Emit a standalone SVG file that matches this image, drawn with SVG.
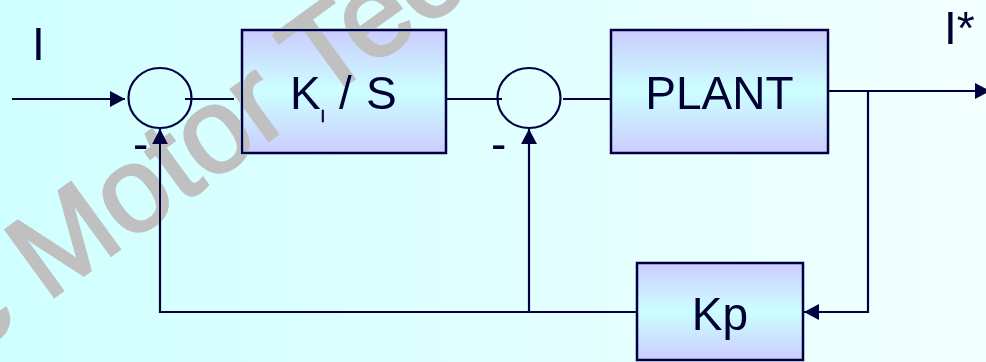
<svg xmlns="http://www.w3.org/2000/svg" width="986" height="362" viewBox="0 0 986 362">
<defs>
<linearGradient id="bg" x1="0" y1="0" x2="1" y2="0">
<stop offset="0" stop-color="#d0ffff"/>
<stop offset="1" stop-color="#f2ffff"/>
</linearGradient>
<linearGradient id="box" x1="0" y1="0" x2="0" y2="1">
<stop offset="0" stop-color="#ccccff"/>
<stop offset="0.5" stop-color="#ccffff"/>
<stop offset="1" stop-color="#ccccff"/>
</linearGradient>
<marker id="arr" markerUnits="userSpaceOnUse" markerWidth="16" markerHeight="16" refX="15" refY="8" orient="auto" viewBox="0 0 16 16">
<path d="M0,0 L15,8 L0,16 z" fill="#000040"/>
</marker>
<style>
.box{fill:url(#box);stroke:#000040;stroke-width:2.5}
.sum{fill:none;stroke:#000040;stroke-width:2.2}
.ln{fill:none;stroke:#000040;stroke-width:2.2}
.lbl{font-family:"Liberation Sans",Arial,sans-serif;font-size:46px;fill:#000033}
.sub{font-size:17px;stroke:#000033;stroke-width:0.6}
.wm{font-family:"Liberation Sans",Arial,sans-serif;font-size:120px;fill:#c0c0c0;stroke:#c0c0c0;stroke-width:3;mix-blend-mode:darken}
</style>
</defs>
<rect x="0" y="0" width="986" height="362" fill="url(#bg)"/>

<g id="connectors">
<path class="ln" d="M12,99 H125" marker-end="url(#arr)"/>
<path class="ln" d="M185,99 H234"/>
<path class="ln" d="M437,99 H502"/>
<path class="ln" d="M563,99 H611"/>
<path class="ln" d="M827,91 H990" marker-end="url(#arr)"/>
<path class="ln" d="M868,91 V312 H804" marker-end="url(#arr)"/>
<path class="ln" d="M637,312 H160 V129" marker-end="url(#arr)"/>
<path class="ln" d="M529,312 V129" marker-end="url(#arr)"/>
</g>

<g id="sum1">
<ellipse class="sum" cx="160" cy="98" rx="31.5" ry="30"/>
<text class="lbl" x="133" y="160">-</text>
</g>
<g id="integrator">
<rect class="box" x="242" y="30" width="204" height="123"/>
<text class="lbl"><tspan x="290" y="109">K</tspan><tspan class="sub" x="320.5" y="122">I</tspan><tspan x="339" y="109">/</tspan><tspan x="366" y="109">S</tspan></text>
</g>
<g id="sum2">
<ellipse class="sum" cx="529" cy="98" rx="31.5" ry="30"/>
<text class="lbl" x="491" y="160">-</text>
</g>
<g id="plant">
<rect class="box" x="611" y="30" width="217" height="123"/>
<text class="lbl" x="719.5" y="109" text-anchor="middle">PLANT</text>
</g>
<g id="kp">
<rect class="box" x="637" y="263" width="166" height="97"/>
<text class="lbl" x="720" y="330" text-anchor="middle">Kp</text>
</g>
<g id="labels">
<text class="lbl" x="32" y="60">I</text>
<text class="lbl" x="944" y="44">I*</text>
</g>

<text class="wm" transform="translate(-29,357) rotate(-36)">c Motor Tec</text>
</svg>
